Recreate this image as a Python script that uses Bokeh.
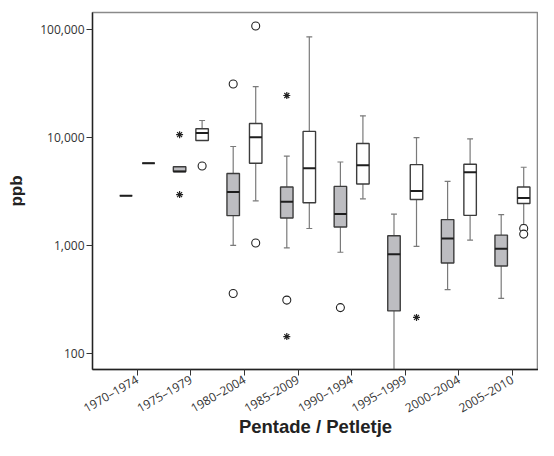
from math import pi
from bokeh.plotting import figure
from bokeh.models import Range1d, FixedTicker, NumeralTickFormatter, ColumnDataSource
from bokeh.embed import file_html
from bokeh.resources import INLINE

categories = ["1970–1974", "1975–1979", "1980–2004", "1985–2009",
              "1990–1994", "1995–1999", "2000–2004", "2005–2010"]

# grey boxes (first series)
grey_low = [2890, 4850, 1000, 945, 862, 50, 387, 322]
grey_q1 = [2890, 4850, 1885, 1791, 1481, 246, 684, 642]
grey_med = [2890, 4850, 3130, 2533, 1950, 827, 1159, 931]
grey_q3 = [2890, 5370, 4635, 3477, 3523, 1225, 1732, 1243]
grey_high = [2890, 5370, 8270, 6734, 5934, 1950, 3930, 1925]

# white boxes (second series)
white_low = [5780, 9390, 2587, 1432, 2699, 979, 1118, 1552]
white_q1 = [5780, 9390, 5775, 2480, 3705, 2659, 1897, 2443]
white_med = [5780, 11020, 10064, 5194, 5534, 3196, 4775, 2745]
white_q3 = [5780, 12090, 13525, 11422, 8810, 5606, 5654, 3477]
white_high = [5780, 14410, 29750, 86250, 15920, 10000, 9710, 5305]

# outliers: category index, series (0 = grey, 1 = white), value
circle_cat = [1, 2, 2, 2, 2, 3, 4, 7, 7]
circle_ser = [1, 0, 0, 1, 1, 0, 0, 1, 1]
circle_val = [5450, 31480, 357, 108800, 1050, 310, 264, 1432, 1270]

star_cat = [1, 1, 3, 3, 5]
star_ser = [0, 0, 0, 0, 1]
star_val = [10650, 2955, 24600, 142, 214]

OFFSET = [-0.21, 0.21]
BOX_W = 0.233
CAP_HALF = 0.055
FILLS = ["#bdbdc1", "#ffffff"]
Y_LO, Y_HI = 10 ** 1.8468, 10 ** 5.1615

p = figure(width=538, height=440, output_backend="svg", toolbar_location=None,
           y_axis_type="log",
           x_range=Range1d(-0.835, 7.486),
           y_range=Range1d(Y_LO, Y_HI),
           min_border_left=92, min_border_right=0, min_border_top=12, min_border_bottom=71)
p.xgrid.visible = False
p.ygrid.visible = False
p.outline_line_color = "#8a8a8a"
p.outline_line_width = 1.6
p.background_fill_color = "white"
p.border_fill_color = "white"

series = [
    (grey_low, grey_q1, grey_med, grey_q3, grey_high),
    (white_low, white_q1, white_med, white_q3, white_high),
]
for s, (lo, q1, med, q3, hi) in enumerate(series):
    xs = [i + OFFSET[s] for i in range(len(categories))]
    src = ColumnDataSource(dict(x=xs, lo=lo, q1=q1, med=med, q3=q3, hi=hi,
                                xl=[x - BOX_W / 2 for x in xs],
                                xr=[x + BOX_W / 2 for x in xs]))
    p.segment(x0="x", y0="q3", x1="x", y1="hi", source=src, line_color="#7a7a7a", line_width=1.2)
    p.segment(x0="x", y0="q1", x1="x", y1="lo", source=src, line_color="#7a7a7a", line_width=1.2)
    up = [k for k in range(len(xs)) if hi[k] > q3[k]]
    dn = [k for k in range(len(xs)) if q1[k] > lo[k] > Y_LO]
    p.segment(x0=[xs[k] - CAP_HALF for k in up], x1=[xs[k] + CAP_HALF for k in up],
              y0=[hi[k] for k in up], y1=[hi[k] for k in up], line_color="#7a7a7a", line_width=1.2)
    p.segment(x0=[xs[k] - CAP_HALF for k in dn], x1=[xs[k] + CAP_HALF for k in dn],
              y0=[lo[k] for k in dn], y1=[lo[k] for k in dn], line_color="#7a7a7a", line_width=1.2)
    p.vbar(x="x", width=BOX_W, bottom="q1", top="q3", source=src,
           fill_color=FILLS[s], line_color="#3c3c3c", line_width=1.4)
    p.segment(x0="xl", y0="med", x1="xr", y1="med", source=src, line_color="#1e1e1e", line_width=2)

p.scatter([c + OFFSET[s] for c, s in zip(circle_cat, circle_ser)], circle_val,
          marker="circle", size=8, fill_color="white", line_color="#222222", line_width=1.1)
p.scatter([c + OFFSET[s] for c, s in zip(star_cat, star_ser)], star_val,
          marker="asterisk", size=7, line_color="#222222", line_width=1.2)

# axes
p.yaxis.ticker = FixedTicker(ticks=[100, 1000, 10000, 100000], minor_ticks=[])
p.yaxis.formatter = NumeralTickFormatter(format="0,0")
p.xaxis.ticker = FixedTicker(ticks=list(range(len(categories))), minor_ticks=[])
p.xaxis.major_label_overrides = {i: c for i, c in enumerate(categories)}
p.xaxis.major_label_orientation = pi / 6
for ax in (p.xaxis[0], p.yaxis[0]):
    ax.axis_line_color = "#222222"
    ax.axis_line_width = 1.3
    ax.major_tick_line_color = "#333333"
    ax.major_tick_in = 0
    ax.major_tick_out = 6
    ax.minor_tick_line_color = None
    ax.major_label_text_font = "Open Sans"
    ax.major_label_text_font_size = "12px"
    ax.major_label_text_color = "#333333"
    ax.axis_label_text_font = "Liberation Sans"
    ax.axis_label_text_font_style = "bold"
    ax.axis_label_text_color = "#222222"
p.yaxis.major_label_standoff = 2
p.xaxis.major_label_standoff = 3
p.yaxis.axis_label = "ppb"
p.yaxis.axis_label_text_font_size = "17px"
p.yaxis.axis_label_standoff = 11
p.xaxis.axis_label = "Pentade / Petletje"
p.xaxis.axis_label_text_font_size = "18.5px"
p.xaxis.axis_label_standoff = -11

open("out.html", "w").write(file_html(p, INLINE))
